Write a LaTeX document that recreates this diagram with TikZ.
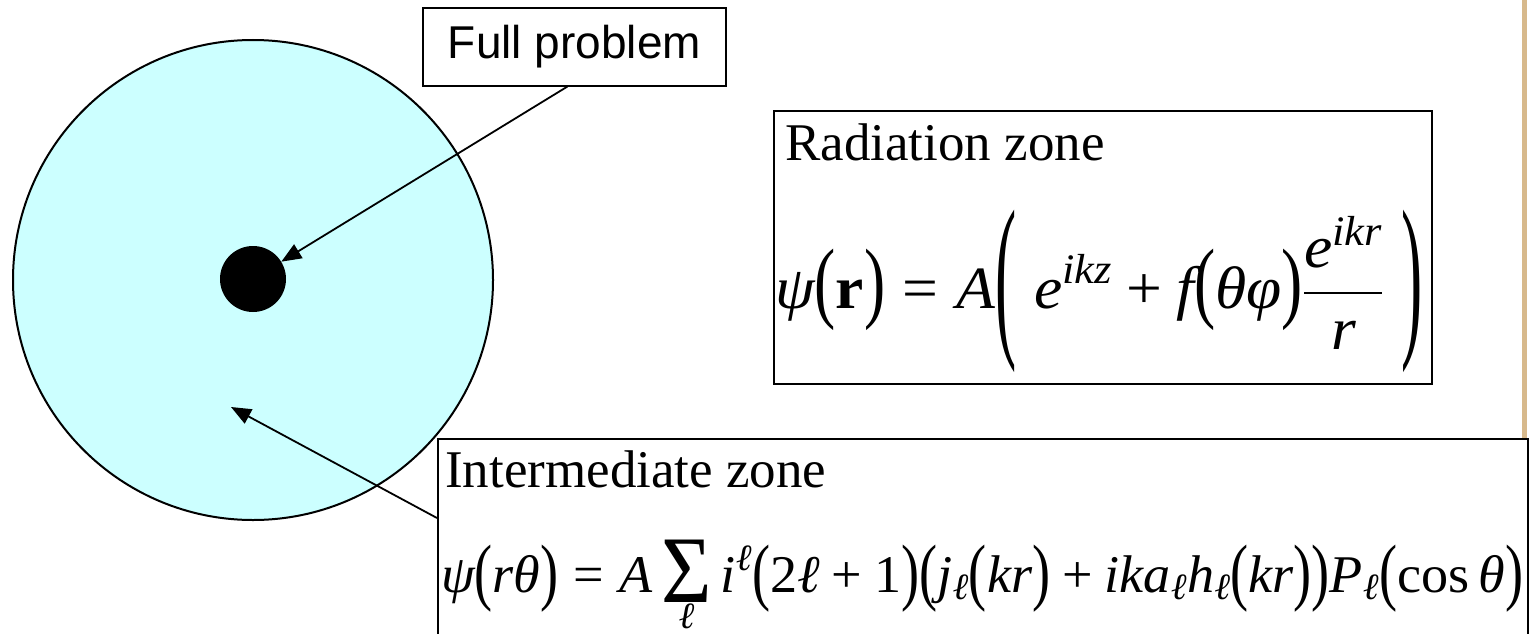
\RequirePackage{fix-cm}
\documentclass[tikz,border=0pt]{standalone}
\usepackage{fontspec}
\setmainfont{Liberation Serif}
\setsansfont{Liberation Sans}
\newfontfamily\eqfont{Liberation Serif}
\newfontfamily\eqitfont{Liberation Serif Italic}[NFSSFamily=eqit]
% Times-like letters for the formulas
\DeclareSymbolFont{letters}{TU}{eqit}{m}{n}
\Umathchardef\psi="0 "1 "03C8
\Umathchardef\theta="0 "1 "03B8
\Umathchardef\varphi="0 "1 "03C6
\Umathchardef\ell="0 "1 "2113
\newcommand{\lp}[2]{\mathopen{\raisebox{#2}{\scalebox{1}[#1]{\eqfont (}}}}
\newcommand{\rp}[2]{\mathclose{\raisebox{#2}{\scalebox{1}[#1]{\eqfont )}}}}
\newcommand{\tx}[1]{\mbox{\eqfont #1}}
\usetikzlibrary{arrows.meta, positioning}
\definecolor{zonecolor}{HTML}{CCFFFF}
\definecolor{edgecolor}{RGB}{215,185,140}
\tikzset{
  zonebox/.style={draw=black, line width=2pt, fill=white, inner sep=0pt},
  pointer/.style={-{Triangle[length=20pt, width=16pt]}, line width=1.8pt},
  bigtext/.style={font=\fontsize{53}{60}\selectfont, inner sep=0pt},
  eqtext/.style={font=\fontsize{60}{66}\selectfont, inner sep=0pt},
}

\begin{document}
\begin{tikzpicture}[x=1pt, y=-1pt]
    \useasboundingbox (0,0) rectangle (1534,634);
    % Slide edge
    \draw[edgecolor, line width=5pt] (1524,0) -- (1524,634);

    % Scattering region and target
    \draw[fill=zonecolor, line width=2pt] (253,280) circle (240pt);
    \node[circle, fill=black, minimum size=66pt, inner sep=0pt] (target) at (253,279) {};
    \coordinate (intzone) at (231,407);

    % Full problem label
    \node[zonebox, minimum width=303pt, minimum height=77pt, font=\sffamily\fontsize{46}{50}\selectfont] (full) at (574.5,47) {Full problem};

    % Radiation zone box
    \node[zonebox, anchor=north west, minimum width=658pt, minimum height=273pt] (radbox) at (773,110) {};
    \node[bigtext, anchor=base west] (radtitle) at (785,160) {Radiation zone};
    \node[eqtext, anchor=base west] (radeq) at (775,308) {\scalebox{1.06}[1]{$\displaystyle \psi\lp{1.5}{-0.05em}\tx{\bfseries r}\rp{1.5}{-0.05em}\mathrel{\tx{=}}A\lp{2.99}{-0.44em}\;e^{ikz}\mathbin{\tx{+}}f\lp{1.5}{-0.05em}\theta\varphi\rp{1.5}{-0.05em}{e^{ikr}\above 2pt r}\;\rp{2.99}{-0.44em}$}};

    % Intermediate zone box
    \node[zonebox, anchor=north west, minimum width=1090pt, minimum height=230pt] (intbox) at (437,438) {};
    \node[bigtext, anchor=base west] (inttitle) at (445,487) {Intermediate zone};
    \node[bigtext, anchor=base west] (inteq) at (441,592) {\scalebox{1.022}[1]{$\displaystyle \psi\lp{1.4}{-0.08em}r\theta\rp{1.4}{-0.08em}\mathrel{\tx{=}}A\mathop{\raisebox{-0.2em}{\scalebox{1.6}[1.8]{\eqfont Σ}}}\limits_{\ell}i^{\ell}\lp{1.4}{-0.08em}\tx{2}\ell\mathbin{\tx{+}}\tx{1}\rp{1.4}{-0.08em}\lp{1.4}{-0.08em}j_{\ell}\lp{1.4}{-0.08em}kr\rp{1.4}{-0.08em}\mathbin{\tx{+}}ika_{\ell}h_{\ell}\lp{1.4}{-0.08em}kr\rp{1.4}{-0.08em}\rp{1.4}{-0.08em}P_{\ell}\lp{1.4}{-0.08em}\tx{cos}\,\theta\rp{1.4}{-0.08em}$}};

    % Pointers
    \draw[pointer] ([xshift=-7pt]full.south) -- (target);
    \draw[pointer] ([yshift=-80pt]intbox.north west) -- (intzone);
\end{tikzpicture}
\end{document}
